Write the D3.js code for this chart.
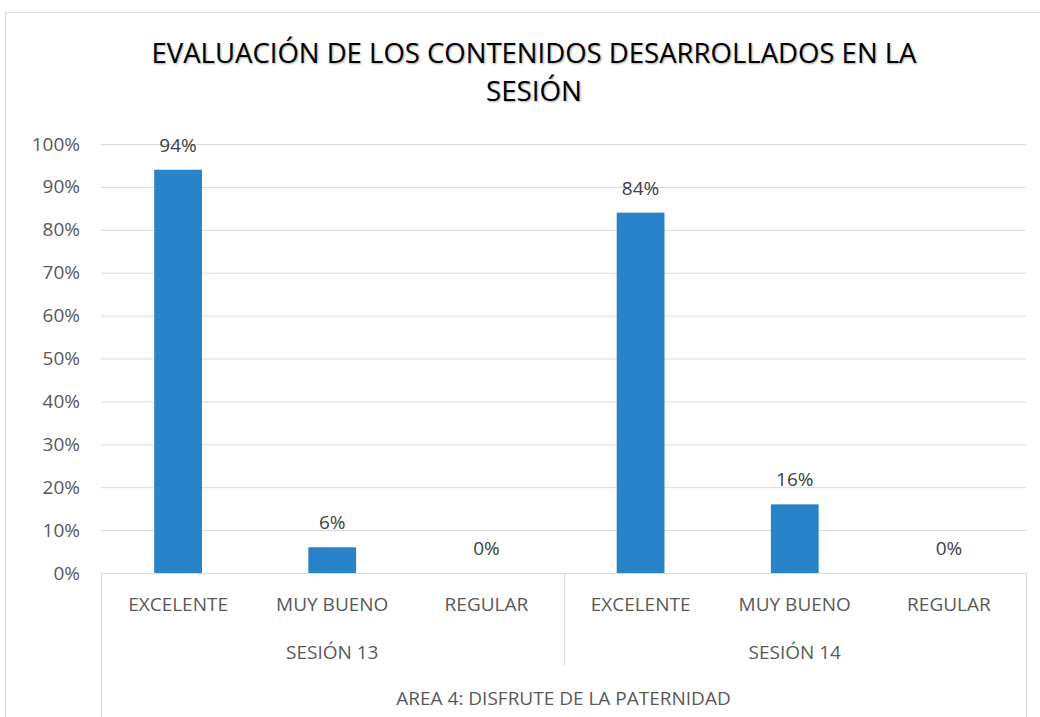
<!DOCTYPE html>
<html>
<head>
<meta charset="utf-8">
<script src="https://cdn.jsdelivr.net/npm/d3@7"></script>
<style>
  body { margin: 0; background: #fff; }
  svg { display: block; font-family: "Open Sans", sans-serif; }
</style>
</head>
<body>
<div id="chart-area"></div>
<script>
// DATA
const sessions = ["SESIÓN 13", "SESIÓN 14"]
const ratings = ["EXCELENTE", "MUY BUENO", "REGULAR"]
const session13 = [0.94, 0.06, 0.00]
const session14 = [0.84, 0.16, 0.00]
const yTicks = [0, 0.1, 0.2, 0.3, 0.4, 0.5, 0.6, 0.7, 0.8, 0.9, 1.0]
const areaLabel = "AREA 4: DISFRUTE DE LA PATERNIDAD"
const titleLines = ["EVALUACIÓN DE LOS CONTENIDOS DESARROLLADOS EN LA", "SESIÓN"]

const W = 1040, H = 717
const margin = { left: 101, right: 14, top: 144, bottom: 144 }
const width = W - margin.left - margin.right
const height = H - margin.top - margin.bottom

const rows = []
sessions.forEach((s, i) => {
  const vals = i === 0 ? session13 : session14
  ratings.forEach((r, j) => rows.push({ key: s + "|" + r, session: s, rating: r, value: vals[j] }))
})

const svg = d3.select("#chart-area").append("svg")
  .attr("width", W).attr("height", H)

// chart border
svg.append("rect")
  .attr("x", 5.5).attr("y", 12.5).attr("width", 1100).attr("height", 800)
  .attr("fill", "none").attr("stroke", "#d9d9d9")

// title (narrow look: squeeze to the reference width)
const titleWidths = [765, 96]
const title = svg.append("text")
  .attr("text-anchor", "middle")
  .attr("font-size", "27px")
  .attr("fill", "#000")
  .style("text-shadow", "1px 1px 2px rgba(0,0,0,0.35)")
title.selectAll("tspan").data(titleLines).enter().append("tspan")
  .attr("x", 534)
  .attr("y", (d, i) => 63 + i * 38)
  .attr("textLength", (d, i) => titleWidths[i])
  .attr("lengthAdjust", "spacingAndGlyphs")
  .text(d => d)

const chart = svg.append("g")
  .attr("transform", "translate(" + margin.left + "," + margin.top + ")")

const xScale = d3.scaleBand()
  .domain(rows.map(d => d.key))
  .range([0, width])
  .paddingInner(0.69)
  .paddingOuter(0.345)

const groupScale = d3.scaleBand()
  .domain(sessions)
  .range([0, width])

const yScale = d3.scaleLinear()
  .domain([0, 1])
  .range([height, 0])

// gridlines + y labels
const yAxisCall = d3.axisLeft(yScale)
  .tickValues(yTicks)
  .tickSize(-width)
  .tickPadding(21)
  .tickFormat(d3.format(".0%"))
const yAxis = chart.append("g").call(yAxisCall)
yAxis.select(".domain").remove()
yAxis.selectAll(".tick line").attr("stroke", "#d9d9d9").attr("stroke-width", 1)
yAxis.selectAll(".tick text")
  .attr("fill", "#595959")
  .attr("font-size", "19px")
  .attr("font-family", "'Open Sans', sans-serif")

// bars
chart.selectAll("rect.bar").data(rows).enter().append("rect")
  .attr("class", "bar")
  .attr("x", d => xScale(d.key))
  .attr("y", d => yScale(d.value))
  .attr("width", xScale.bandwidth())
  .attr("height", d => height - yScale(d.value))
  .attr("fill", "#2883c8")

// data labels
chart.selectAll("text.lbl").data(rows).enter().append("text")
  .attr("class", "lbl")
  .attr("x", d => xScale(d.key) + xScale.bandwidth() / 2)
  .attr("y", d => yScale(d.value) - 18)
  .attr("text-anchor", "middle")
  .attr("font-size", "19px")
  .attr("fill", "#404040")
  .text(d => d3.format(".0%")(d.value))

// multi-level category axis
const axisColor = "#d9d9d9"
chart.append("line")
  .attr("x1", 0).attr("x2", width).attr("y1", height + 0.5).attr("y2", height + 0.5)
  .attr("stroke", axisColor)
const seps = [0, groupScale("SESIÓN 14"), width]
chart.selectAll("line.sep").data(seps).enter().append("line")
  .attr("class", "sep")
  .attr("x1", d => Math.round(d) + 0.5).attr("x2", d => Math.round(d) + 0.5)
  .attr("y1", height)
  .attr("y2", (d, i) => i === 1 ? height + 92 : H - margin.top)
  .attr("stroke", axisColor)

const bandFull = d3.scaleBand().domain(rows.map(d => d.key)).range([0, width])
chart.selectAll("text.cat").data(rows).enter().append("text")
  .attr("class", "cat")
  .attr("x", d => bandFull(d.key) + bandFull.bandwidth() / 2)
  .attr("y", height + 38)
  .attr("text-anchor", "middle")
  .attr("font-size", "19px")
  .attr("fill", "#595959")
  .text(d => d.rating)

chart.selectAll("text.grp").data(sessions).enter().append("text")
  .attr("class", "grp")
  .attr("x", d => groupScale(d) + groupScale.bandwidth() / 2)
  .attr("y", height + 86)
  .attr("text-anchor", "middle")
  .attr("font-size", "19px")
  .attr("fill", "#595959")
  .text(d => d)

chart.append("text")
  .attr("x", width / 2)
  .attr("y", height + 132)
  .attr("text-anchor", "middle")
  .attr("font-size", "19px")
  .attr("fill", "#595959")
  .text(areaLabel)
</script>
</body>
</html>
